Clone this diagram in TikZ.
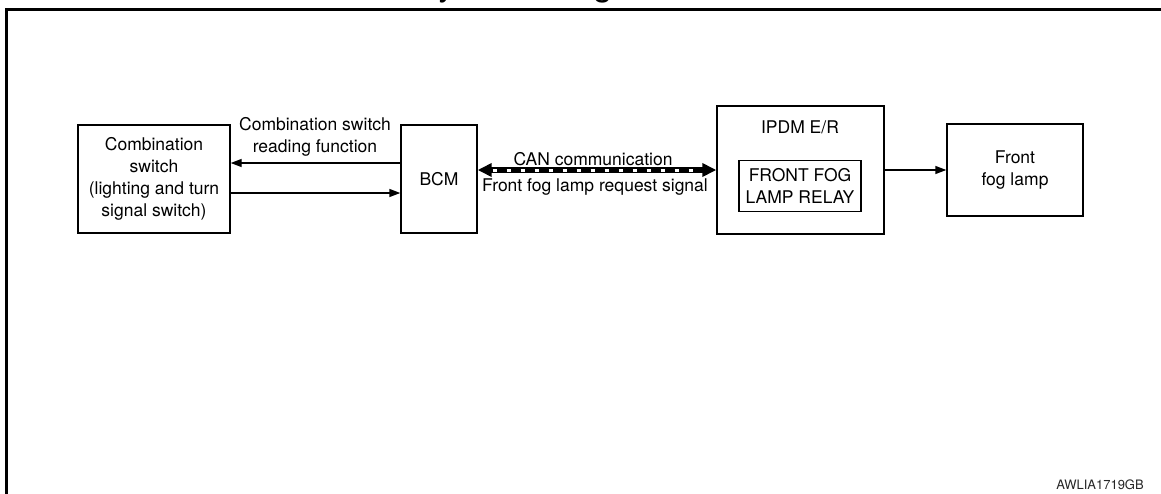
\documentclass[tikz,border=0pt]{standalone}
\usepackage{fontspec}
\setmainfont{TeX Gyre Heros}
\usetikzlibrary{arrows.meta}

\begin{document}
\begin{tikzpicture}[x=1pt, y=-1pt, font=\fontsize{17.5}{22}\selectfont]
\useasboundingbox (0,0) rectangle (1161,493);
% block styles
\tikzset{box/.style={draw=black, line width=1.4pt, inner sep=0pt, align=center},
         lbl/.style={inner sep=0pt, align=center},
         sig/.style={draw=black, line width=1.4pt, -{Triangle[length=11pt, width=8pt]}},
         can/.style={draw=black, line width=6pt, {Triangle[length=14pt, width=13pt]}-{Triangle[length=14pt, width=13pt]}},
         candash/.style={draw=white, line width=3pt, dash pattern=on 4.5pt off 9.5pt}}

% ---- page frame and cut-off heading
\draw[line width=3pt] (6.5,510) |- (1175,9.3);
\begin{scope}
  \clip (0,0) rectangle (1161,493);
  \node[lbl, anchor=base west, font=\fontsize{35}{40}\selectfont] (title) at (415,-4.4) {System Diagram};
\end{scope}

% ---- units
\node[box, minimum width=152, minimum height=108] (comb) at (154,179) {Combination\\switch\\(lighting and turn\\signal switch)};
\node[box, minimum width=76, minimum height=108] (bcm) at (439,179) {BCM};
\node[box, minimum width=167, minimum height=128] (ipdm) at (800.5,170) {};
\node[lbl] (ipdmname) at (800,127) {IPDM E/R};
\node[box, minimum width=122, minimum height=51] (relay) at (800,186) {FRONT FOG\\LAMP RELAY};
\node[box, minimum width=136, minimum height=92] (lamp) at (1015,170) {Front\\fog lamp};

% ---- combination switch <-> BCM
\coordinate (readpt) at ([yshift=16pt]bcm.west);
\coordinate (swpt) at ([yshift=-14pt]comb.east);
\draw[sig] (readpt) -- (readpt -| comb.east);
\draw[sig] (swpt) -- (swpt -| bcm.west);
\node[lbl] (readlbl) at (315,137) {Combination switch\\reading function};

% ---- CAN line BCM <-> IPDM E/R
\draw[can] (bcm.east |- ipdm.west) -- (ipdm.west);
\draw[candash, shorten <=15pt, shorten >=16pt] (bcm.east |- ipdm.west) -- (ipdm.west);
\node[lbl, anchor=base] (canlbl) at (593,165) {CAN communication};
\node[lbl, anchor=base] (reqlbl) at (595,191.5) {Front fog lamp request signal};

% ---- IPDM E/R -> front fog lamp
\draw[sig] (ipdm.east) -- (lamp.west);

% ---- figure id
\node[lbl, font=\fontsize{13}{15}\selectfont, text=black!85] (figid) at (1100,485) {AWLIA1719GB};
\end{tikzpicture}
\end{document}
